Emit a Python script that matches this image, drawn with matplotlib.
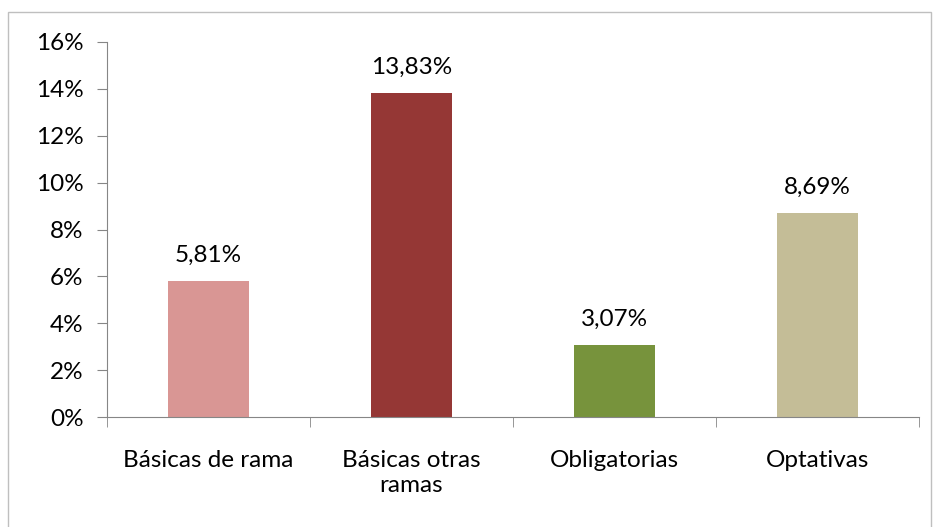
import matplotlib.pyplot as plt
from matplotlib.patches import Rectangle
from matplotlib.ticker import FuncFormatter, MultipleLocator
import numpy as np

categories = ["Básicas de rama", "Básicas otras\nramas", "Obligatorias", "Optativas"]
values = [5.81, 13.83, 3.07, 8.69]
colors = ["#D99694", "#953735", "#77933C", "#C4BD97"]

plt.rcParams['font.family'] = ['Lato', 'DejaVu Sans']

fig = plt.figure(figsize=(9.34, 5.27), dpi=100)
# chart area border (bottom edge runs off the image, as in the original)
fig.patches.append(Rectangle((8 / 934, -10 / 527), 923 / 934, 525 / 527,
                             transform=fig.transFigure, fill=False,
                             edgecolor="#BFBFBF", linewidth=1))

ax = fig.add_axes([107 / 934, 110 / 527, 812 / 934, 375 / 527])
x = np.arange(len(categories))
ax.bar(x, values, width=0.4, color=colors)

for xi, v in zip(x, values):
    ax.text(xi, v + 0.65, f"{v:.2f}%".replace(".", ","), ha="center",
            va="bottom", fontsize=17.5)

ax.set_xlim(-0.5, len(categories) - 0.5)
ax.set_ylim(0, 16)
ax.yaxis.set_major_locator(MultipleLocator(2))
ax.yaxis.set_major_formatter(FuncFormatter(lambda v, p: f"{v:.0f}%"))

ax.set_xticks(x)
ax.set_xticklabels(categories, fontsize=17.5, linespacing=1.2)
ax.set_xticks(np.arange(-0.5, len(categories)), minor=True)
ax.tick_params(axis="x", which="major", length=0, pad=24)
ax.tick_params(axis="x", which="minor", length=7, color="#868686")
ax.tick_params(axis="y", length=7, color="#868686", labelsize=17.5, pad=10)

for side in ["top", "right"]:
    ax.spines[side].set_visible(False)
for side in ["left", "bottom"]:
    ax.spines[side].set_color("#868686")

fig.savefig("out.png", dpi=100)
